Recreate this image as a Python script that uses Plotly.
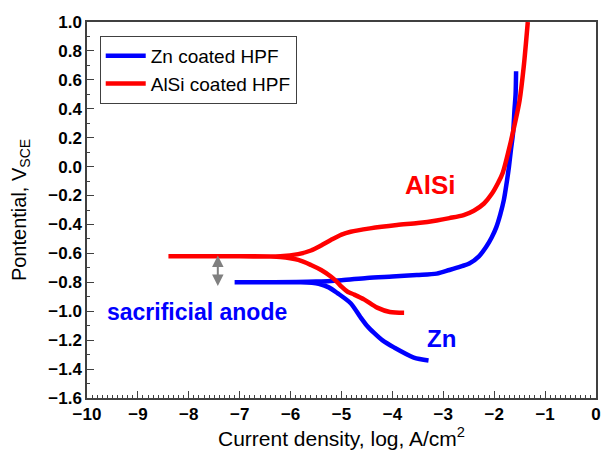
import plotly.graph_objects as go

# Polarization curves: log current density (A/cm^2) vs potential (V vs SCE)
zn_logi = [-3.29, -3.58, -3.97, -4.20, -4.36, -4.50, -4.63, -4.82, -5.08, -5.25, -5.45,
           -5.80, -6.50, -7.10,
           -6.50, -5.50, -5.00, -4.50, -4.00, -3.52, -3.13, -2.88, -2.65, -2.49, -2.30,
           -2.16, -2.05, -1.96, -1.88, -1.81, -1.75, -1.71, -1.67, -1.63, -1.60, -1.58, -1.57]
zn_pot = [-1.34, -1.32, -1.25, -1.20, -1.15, -1.10, -1.04, -0.945, -0.875, -0.835, -0.81,
          -0.80, -0.80, -0.80,
          -0.80, -0.795, -0.785, -0.77, -0.76, -0.75, -0.74, -0.715, -0.69, -0.67, -0.62,
          -0.556, -0.49, -0.42, -0.33, -0.23, -0.10, 0.0, 0.12, 0.23, 0.40, 0.50, 0.66]

alsi_logi = [-3.77, -4.05, -4.30, -4.55, -4.75, -4.88, -5.00, -5.08, -5.21, -5.40, -5.60,
             -5.85, -6.20, -7.00, -8.40,
             -7.00, -6.20, -5.85, -5.60, -5.40, -5.21, -5.00, -4.82, -4.44, -3.91, -3.50,
             -3.13, -2.88, -2.60, -2.40, -2.20, -2.05, -1.92, -1.83, -1.71, -1.58, -1.50,
             -1.42, -1.34]
alsi_pot = [-1.01, -1.005, -0.975, -0.92, -0.885, -0.865, -0.83, -0.80, -0.76, -0.715, -0.68,
            -0.645, -0.625, -0.62, -0.62,
            -0.62, -0.62, -0.605, -0.58, -0.545, -0.508, -0.47, -0.45, -0.427, -0.404, -0.39,
            -0.372, -0.356, -0.335, -0.305, -0.255, -0.19, -0.11, -0.04, 0.12, 0.32, 0.46,
            0.69, 1.0]

series_names = ["Zn coated HPF", "AlSi coated HPF"]
x_ticks = list(range(-10, 1))
y_ticks = [round(-1.6 + 0.2 * k, 1) for k in range(14)]

FONT = "Liberation Sans, Arial, sans-serif"
BLUE = "#0000FF"
RED = "#FF0000"
AXIS = "#404040"

fig = go.Figure()
fig.add_trace(go.Scatter(x=zn_logi, y=zn_pot, mode="lines", name=series_names[0],
                         line=dict(color=BLUE, width=4.5, shape="spline", smoothing=0.8)))
fig.add_trace(go.Scatter(x=alsi_logi, y=alsi_pot, mode="lines", name=series_names[1],
                         line=dict(color=RED, width=4.5, shape="spline", smoothing=0.8)))

axis_common = dict(showgrid=False, zeroline=False, showline=True, linecolor=AXIS,
                   linewidth=1.5, mirror=True, ticks="inside", tickcolor=AXIS,
                   ticklen=7, tickwidth=1.2,
                   tickfont=dict(family=FONT, size=17, color="black", weight="bold"))

fig.update_xaxes(range=[-10, 0], tickvals=x_ticks, tickformat="d",
                 minor=dict(ticks="inside", dtick=0.1, ticklen=3, tickcolor=AXIS),
                 title=dict(text="Current density, log, A/cm<sup>2</sup>",
                            font=dict(family=FONT, size=21, color="black"), standoff=8),
                 **axis_common)
fig.update_yaxes(range=[-1.6, 1.0], tickvals=y_ticks, tickformat=".1f",
                 minor=dict(ticks="inside", dtick=0.1, ticklen=3, tickcolor=AXIS),
                 title=dict(text="Pontential, V<sub>SCE</sub>",
                            font=dict(family=FONT, size=20, color="black"), standoff=16),
                 **axis_common)

# Curve labels
fig.add_annotation(x=-3.25, y=-0.127, text="<b>AlSi</b>", showarrow=False,
                   font=dict(family=FONT, size=26, color=RED))
fig.add_annotation(x=-3.04, y=-1.19, text="<b>Zn</b>", showarrow=False,
                   font=dict(family=FONT, size=24, color=BLUE))
fig.add_annotation(x=-7.84, y=-1.005, text="<b>sacrificial anode</b>", showarrow=False,
                   font=dict(family=FONT, size=23, color=BLUE))

# Double-headed arrow marking the gap between the corrosion potentials
fig.add_annotation(x=-7.43, y=-0.825, ax=-7.43, ay=-0.605, xref="x", yref="y",
                   axref="x", ayref="y", text="", showarrow=True,
                   arrowhead=2, startarrowhead=2, arrowside="end+start",
                   arrowsize=1.15, startarrowsize=1.15, arrowwidth=2, arrowcolor="#808080")

fig.update_layout(
    width=604, height=454,
    margin=dict(l=87, r=3, t=22, b=56),
    paper_bgcolor="white", plot_bgcolor="white",
    font=dict(family=FONT, color="black"),
    legend=dict(x=0.025, y=0.963, xanchor="left", yanchor="top",
                bgcolor="white", bordercolor=AXIS, borderwidth=1,
                font=dict(family=FONT, size=19, color="black"),
                tracegroupgap=0, itemwidth=40),
)

fig.write_html("out.html")
